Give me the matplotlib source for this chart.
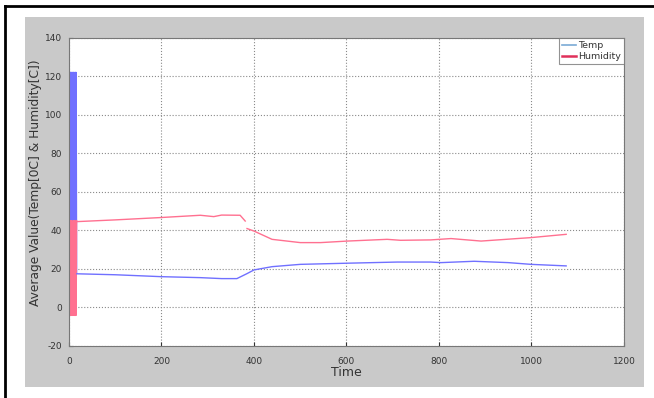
import matplotlib

matplotlib.use("Agg")
import matplotlib.pyplot as plt
import numpy as np
from matplotlib.lines import Line2D
from matplotlib.patches import Rectangle

plt.rcParams["axes.unicode_minus"] = False

# start-up burst (first ~16 samples swing wildly)
burst_x = [0, 1, 2, 3, 4, 5, 6, 7, 8, 9, 10, 11, 12, 13, 14, 15, 16]
burst_temp = [18, 122, 20, 122, 40, 122, 18, 70, 122, 19, 122, 60, 18, 122, 20, 122, 18]
burst_hum = [44, -4, 45, -4, 20, 45, -4, 44, -4, 45, 10, -4, 45, -4, 44, -4, 45]

# steady part
temp_x = [17, 100, 200, 284, 330, 363, 385, 400, 439, 500, 602, 710, 782, 804, 876, 950, 999, 1075]
temp_y = [17.5, 17.0, 16.0, 15.5, 15.0, 15.0, 17.6, 19.5, 21.2, 22.4, 23.0, 23.6, 23.6, 23.3, 24.0, 23.3, 22.4, 21.6]

hum_x = [17, 100, 197, 284, 313, 330, 370, 381, 383, 385, 400, 439, 500, 544, 602, 688, 717, 782, 826, 891, 999, 1075]
hum_y = [44.6, 45.5, 46.7, 47.9, 47.2, 48.0, 47.9, 44.9, np.nan, 41.0, 39.7, 35.4, 33.7, 33.7, 34.5, 35.4, 34.9, 35.1, 35.8, 34.5, 36.3, 38.0]

x_ticks = [0, 200, 400, 600, 800, 1000, 1200]
y_ticks = [-20, 0, 20, 40, 60, 80, 100, 120, 140]

blue = "#7070ff"
red = "#ff7090"
text_col = "#333333"

fig = plt.figure(figsize=(6.54, 3.98), dpi=100)
fig.patch.set_facecolor("white")

# grey figure panel and the black scan border
fig.patches.append(Rectangle((0.0382, 0.0276), 0.9465, 0.9296, transform=fig.transFigure,
                             facecolor="#c9c9c9", edgecolor="none", zorder=-5))
fig.lines.append(Line2D([0.0076, 0.0076], [0.0, 0.985], transform=fig.transFigure, color="black", linewidth=2))
fig.lines.append(Line2D([0.0076, 1.0], [0.985, 0.985], transform=fig.transFigure, color="black", linewidth=2))

ax = fig.add_axes([0.1055, 0.1307, 0.8486, 0.7739])
ax.set_facecolor("white")

ax.plot(burst_x, burst_temp, color=blue, linewidth=1.3)
ax.plot(burst_x, burst_hum, color=red, linewidth=1.3)
ax.plot(temp_x, temp_y, color=blue, linewidth=1.0)
ax.plot(hum_x, hum_y, color=red, linewidth=1.0)

ax.set_xlim(0, 1200)
ax.set_ylim(-20, 140)
ax.set_xticks(x_ticks)
ax.set_yticks(y_ticks)
ax.tick_params(direction="in", length=3, labelsize=6.5, colors=text_col)
ax.tick_params(axis="x", pad=8)
ax.tick_params(axis="y", pad=5)
ax.grid(True, linestyle=":", color="#8a8a8a", linewidth=0.8)
for s in ax.spines.values():
    s.set_color("#777777")
    s.set_linewidth(0.8)

ax.set_xlabel("Time", fontsize=9, color=text_col, labelpad=0)
ax.set_ylabel("Average Value(Temp[0C] & Humidity[C])", fontsize=8.8, color=text_col)
ax.yaxis.set_label_coords(-0.048, 0.53)

handles = [Line2D([], [], color="#7aaad6", linewidth=1.2),
           Line2D([], [], color="#e0305a", linewidth=1.8)]
leg = ax.legend(handles, ["Temp", "Humidity"], loc="upper right", fontsize=6.8,
                fancybox=False, borderaxespad=0, handlelength=1.5, handletextpad=0.15,
                labelspacing=0.2, borderpad=0.35)
leg.get_frame().set_edgecolor("#777777")
leg.get_frame().set_linewidth(0.8)
for t in leg.get_texts():
    t.set_color(text_col)

fig.savefig("out.png", dpi=100)
plt.close(fig)
